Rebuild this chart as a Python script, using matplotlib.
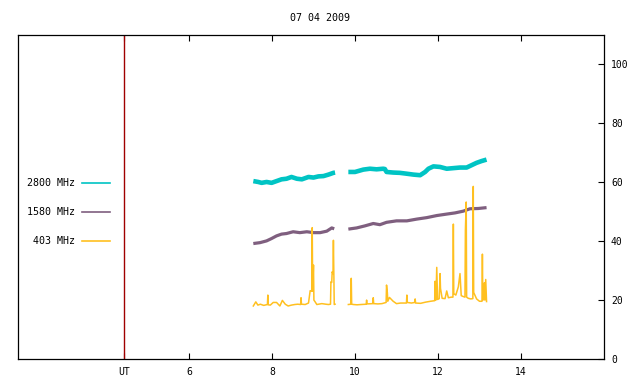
import matplotlib
matplotlib.use("Agg")
import matplotlib.pyplot as plt
from matplotlib.lines import Line2D
import numpy as np

nan = np.nan

# 2800 MHz flux (UT hours, sfu)
t2800 = [7.55, 7.67, 7.75, 7.87, 7.99, 8.11, 8.23, 8.35, 8.47, 8.60,
         8.72, 8.88, 9.00, 9.12, 9.24, 9.36, 9.48, 9.52, nan,
         9.84, 10.0, 10.2, 10.36, 10.52, 10.68, 10.72, 10.76, 10.92, 11.08,
         11.25, 11.41, 11.57, 11.69, 11.77, 11.89, 12.05, 12.21, 12.37, 12.53,
         12.69, 12.81, 12.93, 13.05, 13.17]
v2800 = [60.4, 60.1, 59.8, 60.1, 59.8, 60.4, 61.0, 61.2, 61.8, 61.2,
         61.0, 61.8, 61.6, 62.0, 62.1, 62.6, 63.2, 63.3, nan,
         63.5, 63.5, 64.3, 64.6, 64.4, 64.6, 64.5, 63.5, 63.3, 63.2,
         62.9, 62.6, 62.4, 63.5, 64.6, 65.4, 65.2, 64.6, 64.8, 65.0,
         65.0, 65.8, 66.6, 67.2, 67.7]

# 1580 MHz
t1580 = [7.55, 7.71, 7.87, 7.99, 8.11, 8.23, 8.35, 8.51, 8.67, 8.84,
         9.00, 9.16, 9.32, 9.44, 9.50, nan,
         9.84, 10.04, 10.24, 10.44, 10.60, 10.76, 11.00, 11.25, 11.49, 11.73,
         11.97, 12.21, 12.41, 12.61, 12.77, 12.97, 13.17]
v1580 = [39.2, 39.5, 40.1, 40.9, 41.8, 42.4, 42.6, 43.2, 42.9, 43.2,
         42.9, 42.9, 43.4, 44.5, 44.2, nan,
         44.1, 44.5, 45.2, 46.0, 45.6, 46.4, 46.9, 46.9, 47.5, 48.0,
         48.7, 49.2, 49.6, 50.2, 51.0, 51.1, 51.4]

# 403 MHz (spiky)
t403 = [7.55, 7.61, 7.66, 7.72, 7.80, 7.89, 7.90, 7.91, 7.96, 8.03,
        8.11, 8.19, 8.25, 8.32, 8.39, 8.47, 8.55, 8.62, 8.69, 8.70,
        8.71, 8.80, 8.88, 8.92, 8.96, 8.97, 8.98, 9.00, 9.01, 9.04,
        9.08, 9.20, 9.30, 9.36, 9.41, 9.42, 9.44, 9.45, 9.47, 9.48,
        9.50, 9.52, nan,
        9.84, 9.90, 9.91, 9.92, 9.96, 10.05, 10.15, 10.27, 10.28, 10.29,
        10.43, 10.44, 10.45, 10.55, 10.65, 10.75, 10.76, 10.78, 10.79, 10.83,
        10.92, 11.00, 11.10, 11.24, 11.25, 11.26, 11.36, 11.44, 11.45, 11.46,
        11.58, 11.70, 11.82, 11.92, 11.93, 11.95, 11.97, 11.99, 12.03, 12.05,
        12.06, 12.10, 12.17, 12.21, 12.25, 12.32, 12.36, 12.37, 12.38, 12.43,
        12.49, 12.53, 12.56, 12.61, 12.65, 12.66, 12.68, 12.69, 12.73, 12.79,
        12.84, 12.85, 12.86, 12.93, 13.00, 13.06, 13.07, 13.08, 13.10, 13.12,
        13.13, 13.15, 13.17]
v403 = [18.0, 19.4, 18.3, 18.6, 18.2, 18.5, 21.7, 18.4, 18.3, 19.2,
        19.2, 18.0, 19.9, 18.6, 18.0, 18.3, 18.5, 18.6, 18.5, 20.8,
        18.6, 18.5, 19.0, 23.2, 23.0, 44.6, 23.0, 31.9, 20.0, 19.4,
        18.5, 18.8, 18.6, 18.5, 18.6, 26.2, 26.0, 29.6, 29.0, 40.3,
        18.5, 18.6, nan,
        18.5, 18.6, 27.4, 18.6, 18.5, 18.4, 18.5, 18.6, 20.0, 18.7,
        18.8, 20.8, 18.8, 18.7, 18.8, 19.2, 25.1, 22.5, 19.6, 20.9,
        19.6, 18.8, 19.0, 19.0, 21.7, 19.2, 19.0, 19.2, 20.4, 19.0,
        18.9, 19.3, 19.6, 19.8, 26.4, 20.0, 31.1, 20.2, 20.5, 29.0,
        24.0, 20.6, 20.5, 23.1, 20.8, 21.0, 21.0, 45.8, 22.2, 21.7,
        24.5, 29.0, 21.5, 21.2, 21.0, 43.7, 53.3, 21.0, 20.6, 20.4,
        20.5, 58.6, 22.6, 20.4, 19.6, 19.6, 35.6, 20.0, 20.2, 25.9,
        20.0, 27.0, 19.5]

labels = ["2800 MHz", "1580 MHz", " 403 MHz"]
colors = ["#00c4c4", "#7f5f7f", "#ffc020"]
xticks = [4.43, 6, 8, 10, 12, 14]
xticklabels = ["UT", "6", "8", "10", "12", "14"]
yticks = [0, 20, 40, 60, 80, 100]

plt.rcParams["font.family"] = "DejaVu Sans Mono"
fig = plt.figure(figsize=(6.4, 3.84), dpi=100)
ax = fig.add_axes([18 / 640, 25 / 384, 586 / 640, 324 / 384])

ax.plot(t2800, v2800, color=colors[0], lw=3.3, solid_capstyle="butt")
ax.plot(t1580, v1580, color=colors[1], lw=2.3, solid_capstyle="butt")
ax.plot(t403, v403, color=colors[2], lw=1.1)
ax.axvline(xticks[0], color="#a00000", lw=1.0)

ax.set_xlim(1.88, 16.0)
ax.set_ylim(0, 110)
ax.set_xticks(xticks)
ax.set_xticklabels(xticklabels)
ax.set_yticks(yticks)
ax.tick_params(axis="x", direction="in", top=True, length=4, width=0.8,
               labelsize=7, pad=6)
ax.tick_params(axis="y", direction="in", left=False, right=True,
               labelleft=False, labelright=True, length=4, width=0.8,
               labelsize=7, pad=5)
for s in ax.spines.values():
    s.set_linewidth(0.9)

handles = [Line2D([], [], color=c, lw=1.2) for c in colors]
ax.legend(handles, labels, loc="upper left",
          bbox_to_anchor=(9 / 586, (359 - 178) / 324),
          markerfirst=False, frameon=False, handlelength=2.8,
          handletextpad=0.7, labelspacing=1.92, borderpad=0,
          borderaxespad=0, prop={"size": 7.2})

fig.text(0.5, 1 - 18 / 384, "07 04 2009", ha="center", va="center", fontsize=7.2)

fig.savefig("out.png", dpi=100)
